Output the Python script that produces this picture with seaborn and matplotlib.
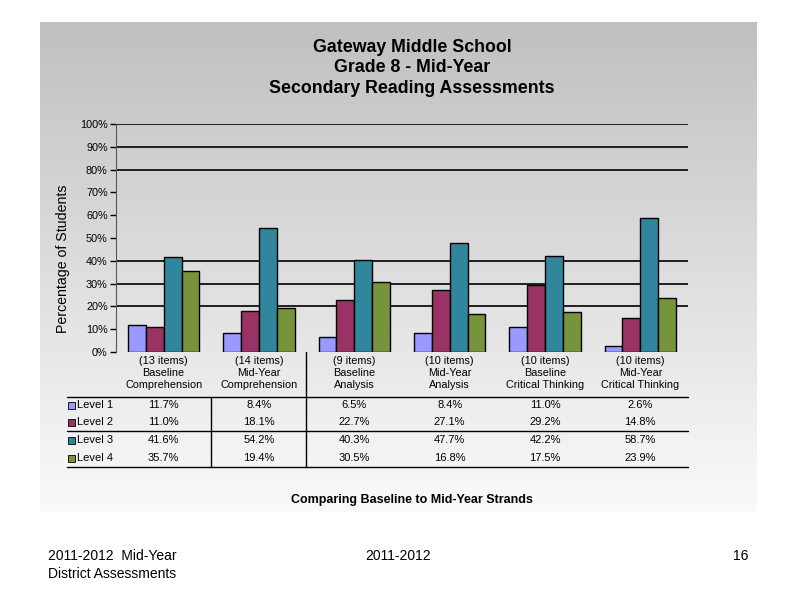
import numpy as np
import pandas as pd
import seaborn as sns
import matplotlib.pyplot as plt
from matplotlib.patches import Rectangle
from matplotlib.lines import Line2D

# Data
categories = [
    "(13 items)\nBaseline\nComprehension",
    "(14 items)\nMid-Year\nComprehension",
    "(9 items)\nBaseline\nAnalysis",
    "(10 items)\nMid-Year\nAnalysis",
    "(10 items)\nBaseline\nCritical Thinking",
    "(10 items)\nMid-Year\nCritical Thinking",
]
levels = ["Level 1", "Level 2", "Level 3", "Level 4"]
level1 = [11.7, 8.4, 6.5, 8.4, 11.0, 2.6]
level2 = [11.0, 18.1, 22.7, 27.1, 29.2, 14.8]
level3 = [41.6, 54.2, 40.3, 47.7, 42.2, 58.7]
level4 = [35.7, 19.4, 30.5, 16.8, 17.5, 23.9]
gridlines = [20, 30, 40, 80, 90, 100]

colors = ["#9999FF", "#993366", "#31859C", "#77933C"]

rows = []
for lev, vals in zip(levels, [level1, level2, level3, level4]):
    for cat, v in zip(categories, vals):
        rows.append({"Category": cat, "Level": lev, "Value": v})
df = pd.DataFrame(rows)

sns.set_style("white")
plt.rcParams["font.family"] = ["Liberation Sans", "DejaVu Sans"]
plt.rcParams["text.color"] = "black"
plt.rcParams["xtick.color"] = "black"
plt.rcParams["ytick.color"] = "black"
plt.rcParams["axes.labelcolor"] = "black"

W, H = 800, 600
fig = plt.figure(figsize=(8, 6), dpi=100)
fig.patch.set_facecolor("white")


def fx(px):
    return px / W


def fy(py):
    return 1 - py / H


# gradient panel
bg = fig.add_axes([fx(40), fy(512), fx(757) - fx(40), fy(22) - fy(512)])
grad = np.linspace(0, 1, 256).reshape(-1, 1)
top = np.array([192, 192, 192]) / 255
bot = np.array([250, 250, 250]) / 255
img = top + (bot - top) * grad[..., None]
bg.imshow(img, aspect="auto", extent=[0, 1, 0, 1], origin="upper")
bg.set_axis_off()

# main axes
ax_left, ax_right, ax_top, ax_bot = 116, 688, 124, 352
ax = fig.add_axes([fx(ax_left), fy(ax_bot), fx(ax_right) - fx(ax_left), fy(ax_top) - fy(ax_bot)])
ax.set_facecolor("none")

for g in gridlines:
    ax.axhline(g, color="black", lw=1.2, zorder=0)

sns.barplot(
    data=df, x="Category", y="Value", hue="Level", hue_order=levels,
    palette=colors, saturation=1, width=0.75, edgecolor="black",
    linewidth=1, ax=ax, legend=False, zorder=2,
)

ax.set_ylim(0, 100)
ax.set_xlim(-0.5, 5.5)
ax.set_yticks(range(0, 101, 10))
ax.set_yticklabels([f"{v}%" for v in range(0, 101, 10)], fontsize=7.8)
ax.tick_params(axis="y", length=4, width=1, color="black", pad=2, left=True)
ax.tick_params(axis="x", length=0, pad=3, labelsize=7.8)
ax.set_xticks(range(len(categories)))
ax.set_xticklabels(categories, linespacing=1.25)
for s in ["top", "right", "bottom"]:
    ax.spines[s].set_visible(False)
ax.spines["left"].set_color("#555555")
ax.set_xlabel("")
ax.set_ylabel("Percentage of Students", fontsize=10.2)
ax.yaxis.set_label_coords((70 - ax_left) / (ax_right - ax_left), (ax_bot - 259) / (ax_bot - ax_top))

# data table
ah = ax_bot - ax_top
row_px = [405, 422, 440, 458]
trans = ax.get_xaxis_transform()
for r, (lev, vals) in enumerate(zip(levels, [level1, level2, level3, level4])):
    yy = (ax_bot - row_px[r]) / ah
    for i, v in enumerate(vals):
        ax.text(i, yy, f"{v:.1f}%", transform=trans, ha="center", va="center",
                fontsize=8, clip_on=False)
    fig.patches.append(Rectangle((fx(68), fy(row_px[r] + 3.5)), fx(7), 7 / H,
                                 transform=fig.transFigure, facecolor=colors[r],
                                 edgecolor="black", lw=0.6))
    fig.text(fx(77), fy(row_px[r]), lev, ha="left", va="center", fontsize=8)

for py in [397, 431, 467]:
    fig.lines.append(Line2D([fx(67), fx(688)], [fy(py), fy(py)],
                            transform=fig.transFigure, color="black", lw=1))
fig.lines.append(Line2D([fx(211), fx(211)], [fy(397), fy(467)],
                        transform=fig.transFigure, color="black", lw=1))
fig.lines.append(Line2D([fx(306), fx(306)], [fy(352), fy(467)],
                        transform=fig.transFigure, color="black", lw=1))

# titles
fig.text(fx(412), fy(47), "Gateway Middle School", ha="center", va="center",
         fontsize=12.8, fontweight="bold")
fig.text(fx(412), fy(68), "Grade 8 - Mid-Year", ha="center", va="center",
         fontsize=12.8, fontweight="bold")
fig.text(fx(412), fy(88), "Secondary Reading Assessments", ha="center", va="center",
         fontsize=12.8, fontweight="bold")
fig.text(fx(412), fy(500), "Comparing Baseline to Mid-Year Strands", ha="center",
         va="center", fontsize=9, fontweight="bold")

# footer
fig.text(fx(48), fy(556), "2011-2012  Mid-Year", ha="left", va="center", fontsize=10)
fig.text(fx(48), fy(574), "District Assessments", ha="left", va="center", fontsize=10)
fig.text(fx(398), fy(556), "2011-2012", ha="center", va="center", fontsize=10)
fig.text(fx(748), fy(556), "16", ha="right", va="center", fontsize=10)

plt.savefig("out.png", dpi=100)
plt.close()
